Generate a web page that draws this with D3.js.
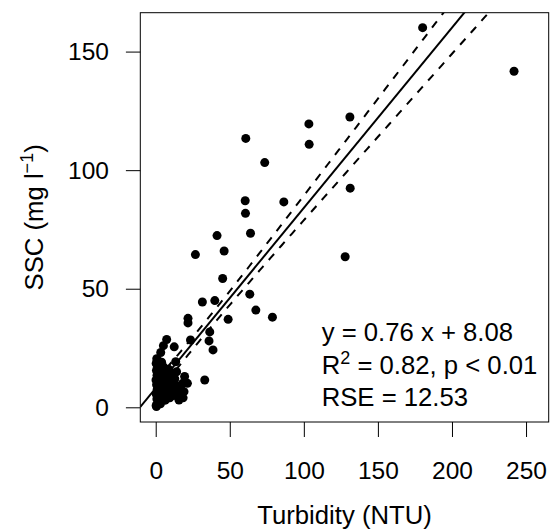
<!DOCTYPE html>
<html><head><meta charset="utf-8">
<script src="https://cdn.jsdelivr.net/npm/d3@7"></script>
<style>
body{margin:0;background:#fff}
text{font-family:"Liberation Sans",Arial,Helvetica,sans-serif;fill:#000}
</style>
</head><body>
<svg id="chart" width="550" height="531"></svg>
<script>
// ---- data ----
const turbidity = [
  180.2, 241.9, 131.1, 103.4, 60.8, 103.6, 73.6, 60.4, 86.5, 131.3,
  60.6, 41.4, 64.0, 26.8, 46.2, 127.9, 45.2, 31.5, 39.9, 63.5,
  67.6, 78.8, 21.8, 21.8, 48.9, 36.5, 23.5, 36.0, 38.7, 33.1,
  21.4, 19.1, 15.7, 17.4, 13.5, 12.5, 7.4, 3.4, 5.2, 0.5,
  0.3, 1.2, 2.0, 0.8, 1.6, 0.4, 1.9, 1.0, 2.3, 0.6, 1.4, 0.2, 2.1, 0.9, 1.7, 0.5, 2.4, 1.1, 0.3, 1.8, 0.7,
  3.2, 4.5, 5.6, 3.8, 4.9, 5.9, 3.5, 4.2, 5.3, 4.0,
  6.5, 7.8, 8.6, 6.9, 8.1, 7.2, 8.8,
  9.5, 10.8, 11.6, 10.1, 11.2, 9.9,
  12.4, 13.6, 14.5, 12.9, 14.1,
  15.5, 16.8, 18.0, 19.5, 18.5
];
const ssc = [
  160.1, 141.7, 122.4, 119.5, 113.4, 110.9, 103.2, 87.1, 86.6, 92.4,
  81.8, 72.4, 73.4, 64.4, 65.9, 63.5, 54.3, 44.4, 45.0, 47.7,
  41.0, 38.0, 37.5, 35.6, 37.1, 31.8, 28.4, 28.0, 24.2, 11.5,
  10.1, 6.6, 3.1, 5.2, 19.2, 25.5, 28.6, 23.1, 26.0, 0.3,
  0.8, 1.5, 2.5, 3.5, 4.5, 5.5, 6.5, 7.5, 8.5, 9.5, 10.5, 11.5, 12.5, 13.5, 14.5, 15.5, 16.5, 17.5, 18.5, 19.5, 20.5,
  1.5, 3.0, 5.0, 7.0, 9.0, 11.0, 13.0, 15.0, 17.0, 19.0,
  3.0, 5.0, 7.0, 9.0, 11.0, 13.0, 16.0,
  4.0, 6.0, 8.0, 10.0, 12.0, 14.0,
  5.0, 7.0, 9.0, 12.0, 15.0,
  6.0, 8.0, 10.0, 13.0, 4.0
];
const xTicks = [0, 50, 100, 150, 200, 250];
const yTicks = [0, 50, 100, 150];
const xLimits = [-10.4, 265.3];
const yLimits = [-6.2, 166.4];
const fitSlope = 0.76, fitIntercept = 8.08, fitRSE = 12.53, tCrit = 1.98;
const xTitle = "Turbidity (NTU)";

// ---- layout ----
const svg = d3.select("#chart");
const L = 140.3, R = 548.7, T = 12.7, B = 422;
const FS = 24.5, FT = 25.7;
const x = d3.scaleLinear().domain(xLimits).range([L, R]);
const y = d3.scaleLinear().domain(yLimits).range([B, T]);

svg.append("defs").append("clipPath").attr("id","clip")
  .append("rect").attr("x",L).attr("y",T).attr("width",R-L).attr("height",B-T);

const plot = svg.append("g").attr("clip-path","url(#clip)");

// points
const pts = turbidity.map((v,i)=>({x:v,y:ssc[i]}));
plot.selectAll("circle").data(pts).join("circle")
  .attr("cx",d=>x(d.x)).attr("cy",d=>y(d.y)).attr("r",4.5).attr("fill","#000");

// fitted line
const fit = v => fitIntercept + fitSlope*v;
plot.append("line")
  .attr("x1",x(xLimits[0])).attr("y1",y(fit(xLimits[0])))
  .attr("x2",x(xLimits[1])).attr("y2",y(fit(xLimits[1])))
  .attr("stroke","#000").attr("stroke-width",2);

// confidence band of the mean
const n = turbidity.length;
const xbar = d3.mean(turbidity);
const Sxx = d3.sum(turbidity, v => (v-xbar)*(v-xbar));
const xmin = d3.min(turbidity), xmax = d3.max(turbidity);
const grid = d3.range(0, 101).map(i => xmin + (xmax-xmin)*i/100);
const hw = v => tCrit*fitRSE*Math.sqrt(1/n + (v-xbar)*(v-xbar)/Sxx);
[1,-1].forEach(s=>{
  plot.append("path")
    .attr("d", d3.line().x(v=>x(v)).y(v=>y(fit(v)+s*hw(v)))(grid))
    .attr("fill","none").attr("stroke","#000").attr("stroke-width",2)
    .attr("stroke-dasharray","8,8");
});

// box
svg.append("rect").attr("x",L).attr("y",T).attr("width",R-L).attr("height",B-T)
  .attr("fill","none").attr("stroke","#000").attr("stroke-width",1);

// axes
const gx = svg.append("g").attr("transform",`translate(0,${B})`)
  .call(d3.axisBottom(x).tickValues(xTicks).tickSize(15).tickPadding(25).tickFormat(d3.format("d")));
const gy = svg.append("g").attr("transform",`translate(${L},0)`)
  .call(d3.axisLeft(y).tickValues(yTicks).tickSize(14.4).tickPadding(17).tickFormat(d3.format("d")));
[gx,gy].forEach(g=>{
  g.select(".domain").remove();
  g.attr("font-size",FS).attr("font-family",null);
  g.selectAll("line").attr("stroke","#000");
  g.selectAll("text").attr("fill","#000");
});

// axis titles
svg.append("text").attr("x",(L+R)/2).attr("y",524).attr("text-anchor","middle")
  .attr("font-size",FT).text(xTitle);
const yt = svg.append("text").attr("transform",`translate(43,${(T+B)/2}) rotate(-90)`)
  .attr("text-anchor","middle").attr("font-size",FT);
yt.append("tspan").text("SSC (mg l");
yt.append("tspan").attr("font-size",18).attr("dy",-10).text("\u22121");
yt.append("tspan").attr("dy",10).text(")");

// annotation
const ax = 321.7;
svg.append("text").attr("x",ax).attr("y",341).attr("font-size",FT)
  .text(`y = ${fitSlope} x + ${fitIntercept}`);
const r2 = svg.append("text").attr("x",ax).attr("y",374).attr("font-size",FT);
r2.append("tspan").text("R");
r2.append("tspan").attr("font-size",18).attr("dy",-10).text("2");
r2.append("tspan").attr("dy",10).text(" = 0.82, p < 0.01");
svg.append("text").attr("x",ax).attr("y",406).attr("font-size",FT)
  .text(`RSE = ${fitRSE}`);
</script>
</body></html>
